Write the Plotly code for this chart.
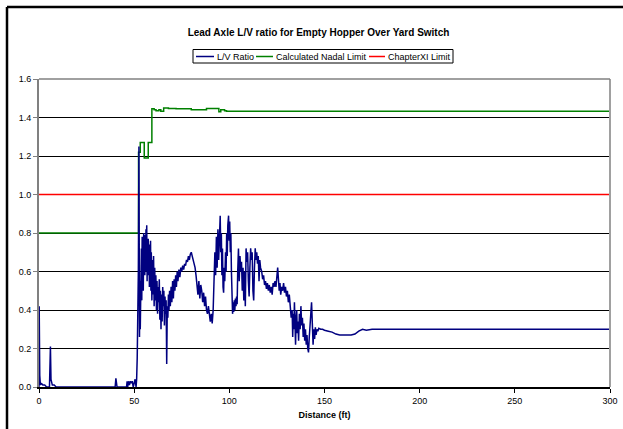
import plotly.graph_objects as go

# ---- data ----
lv_dist = [0, 0.1, 0.4, 0.6, 0.8, 1.2, 2, 3, 4, 5.5, 5.8, 6.0, 6.3, 6.6, 7, 8, 9, 10,
           40, 40.4, 40.7, 41, 46, 46.3, 46.6, 47, 47.5, 48, 48.5, 49, 49.5, 50, 50.5,
           51, 51.3, 51.6, 51.9, 52.2, 52.5, 52.8, 53.0, 53.2, 53.4, 53.6, 53.8, 54.0,
           54.2, 54.4, 54.6, 54.8, 55.0, 55.2, 55.4, 55.6, 55.8, 56.0, 56.2, 56.4, 56.6,
           56.8, 57.0, 57.2, 57.4, 57.6, 57.8, 58.0, 58.2, 58.4, 58.6, 58.8, 59.0, 59.3,
           59.6, 59.9, 60.2, 60.5, 60.8, 61.1, 61.4, 61.7, 62.0, 62.3, 62.6, 62.9, 63.2,
           63.5, 63.8, 64.1, 64.4, 64.7, 65.0, 65.3, 65.6, 65.9, 66.2, 66.5, 66.8, 67.1,
           67.4, 67.7, 68.0, 68.3, 68.6, 69.0, 69.4, 69.8, 70.2, 70.6, 71.0, 71.4, 71.8,
           72.2, 72.6, 73.0, 73.5, 74.0, 74.5, 75.0, 75.5, 76.0, 76.5, 77.0, 77.5, 78.0,
           78.5, 79.0, 79.5, 80.0, 80.5, 81.0, 81.5, 82.0, 82.5, 83.0, 83.5, 84.0, 84.5,
           85.0, 85.5, 86.0, 86.5, 87.0, 87.5, 88.0, 88.5, 89.0, 89.5, 90.0, 90.5, 91.0,
           91.5, 92.0, 92.4, 92.8, 93.2, 93.6, 94.0, 94.4, 94.8, 95.2, 95.5, 95.8, 96.1,
           96.4, 96.7, 97.0, 97.3, 97.6, 98.0, 98.3, 98.6, 98.9, 99.2, 99.6, 99.9, 100.2,
           100.5, 100.8, 101.1, 101.4, 101.7, 102.0, 102.3, 102.6, 102.9, 103.2, 103.5,
           103.8, 104.1, 104.4, 104.8, 105.2, 105.6, 106.0, 106.4, 106.8, 107.2, 107.6,
           108.0, 108.4, 108.8, 109.2, 109.6, 110.0, 110.4, 110.8, 111.2, 111.6, 112.0,
           112.4, 112.8, 113.2, 113.6, 114.0, 114.4, 114.8, 115.2, 115.6, 116.0, 116.4,
           117.0, 117.5, 118.0, 118.5, 119.0, 119.5, 120.0, 120.5, 121.0, 121.5, 122.0,
           122.5, 123.0, 123.5, 124.0, 124.5, 125.0, 125.4, 125.8, 126.2, 126.6, 127.0,
           127.5, 128.0, 128.5, 129.0, 129.5, 130.0, 130.5, 131.0, 131.5, 132.0, 132.5,
           133.0, 133.3, 133.6, 133.9, 134.2, 134.5, 134.8, 135.1, 135.4, 135.7, 136.0,
           136.4, 136.8, 137.2, 137.6, 138.0, 138.4, 138.8, 139.2, 139.6, 140.0, 140.4,
           140.8, 141.2, 141.6, 142.0, 142.4, 142.8, 143.2, 143.6, 144.0, 144.4, 144.8,
           145.2, 145.6, 146.0, 146.5, 147.0, 148.0, 149.0, 150.0, 152.0, 154.0, 156.0,
           158.0, 160.0, 162.0, 164.0, 166.0, 168.0, 170.0, 172.0, 175.0, 180.0, 185.0,
           190.0, 195.0, 200.0, 210.0, 220.0, 230.0, 240.0, 250.0, 260.0, 270.0, 280.0,
           290.0, 300.0]
lv_ratio = [0.0, 0.42, 0.06, 0.03, 0.01, 0.02, 0.01, 0.01, 0.0, 0.0, 0.1, 0.21, 0.04, 0.02, 0.01, 0.01, 0.0, 0.0,
            0.0, 0.045, 0.01, 0.0, 0.0, 0.03, 0.0, 0.03, 0.01, 0.03, 0.02, 0.03, 0.0, 0.02, 0.04,
            0.0, 0.04, 0.15, 0.3, 0.6, 1.25, 0.26, 0.55, 0.30, 0.62, 0.38, 0.72, 0.45,
            0.78, 0.55, 0.75, 0.50, 0.80, 0.62, 0.76, 0.58, 0.79, 0.60, 0.82, 0.65, 0.84,
            0.55, 0.76, 0.60, 0.77, 0.58, 0.74, 0.52, 0.72, 0.55, 0.76, 0.50, 0.70, 0.45,
            0.66, 0.48, 0.68, 0.42, 0.62, 0.45, 0.58, 0.40, 0.55, 0.38, 0.52, 0.44, 0.56,
            0.35, 0.50, 0.30, 0.48, 0.34, 0.52, 0.42, 0.50, 0.32, 0.47, 0.38, 0.45, 0.12,
            0.42, 0.36, 0.48, 0.40, 0.50, 0.42, 0.52, 0.44, 0.55, 0.46, 0.56, 0.50, 0.58,
            0.52, 0.60, 0.55, 0.61, 0.57, 0.62, 0.60, 0.63, 0.61, 0.64, 0.63, 0.66, 0.65,
            0.68, 0.66, 0.69, 0.70, 0.68, 0.66, 0.64, 0.62, 0.58, 0.52, 0.48, 0.55, 0.46,
            0.53, 0.50, 0.44, 0.49, 0.42, 0.47, 0.40, 0.38, 0.42, 0.36, 0.34, 0.38, 0.33,
            0.40, 0.52, 0.70, 0.58, 0.78, 0.62, 0.82, 0.66, 0.84, 0.89, 0.70, 0.80, 0.58,
            0.72, 0.52, 0.49, 0.62, 0.55, 0.70, 0.60, 0.80, 0.68, 0.84, 0.89, 0.76, 0.86,
            0.70, 0.80, 0.60, 0.45, 0.38, 0.44, 0.39, 0.45, 0.40, 0.46, 0.42,
            0.47, 0.43, 0.60, 0.72, 0.55, 0.68, 0.60, 0.65, 0.50, 0.62, 0.45,
            0.60, 0.42, 0.72, 0.65, 0.70, 0.55, 0.47, 0.62, 0.72, 0.66, 0.70,
            0.50, 0.45, 0.62, 0.72, 0.66, 0.70, 0.64, 0.68, 0.55, 0.66, 0.62,
            0.60, 0.56, 0.58, 0.53, 0.55, 0.51, 0.54, 0.50, 0.53, 0.49, 0.52,
            0.48, 0.54, 0.52, 0.55, 0.52, 0.58, 0.62, 0.56, 0.50, 0.54, 0.48,
            0.52, 0.50, 0.54, 0.49, 0.52, 0.47, 0.50, 0.44, 0.48, 0.42, 0.36,
            0.40, 0.26, 0.38, 0.30, 0.44, 0.32, 0.22, 0.36, 0.40, 0.28, 0.34,
            0.24, 0.38, 0.30, 0.42, 0.32, 0.36, 0.26, 0.33, 0.24, 0.30, 0.22,
            0.27, 0.20, 0.18, 0.26, 0.30, 0.38, 0.44, 0.32, 0.22, 0.30, 0.25,
            0.31, 0.27, 0.30, 0.29, 0.305, 0.30, 0.30, 0.295, 0.29, 0.285, 0.275,
            0.27, 0.27, 0.27, 0.27, 0.275, 0.29, 0.30, 0.295, 0.30, 0.30, 0.297,
            0.30, 0.30, 0.298, 0.30, 0.30, 0.298, 0.30, 0.30, 0.298, 0.30, 0.30,
            0.30, 0.30]

nadal_dist = [0, 52.3, 53.2, 55.3, 57.4, 59.3, 60.5, 61.5, 63.0, 64.0, 65.5, 68.0, 72.0,
              80.0, 88.0, 94.5, 95.5, 97.5, 98.5, 300]
nadal_limit = [0.8, 1.22, 1.27, 1.19, 1.27, 1.445, 1.44, 1.435, 1.44, 1.432, 1.45, 1.447,
               1.445, 1.44, 1.447, 1.43, 1.44, 1.435, 1.433, 1.433]

ch11_dist = [0, 300]
ch11_limit = [1.0, 1.0]

x_ticks = [0, 50, 100, 150, 200, 250, 300]
y_ticks = [0.0, 0.2, 0.4, 0.6, 0.8, 1.0, 1.2, 1.4, 1.6]

series_names = ["L/V Ratio", "Calculated Nadal Limit", "ChapterXI Limit"]
series_colors = ["#000080", "#008000", "#FF0000"]

FONT = "Liberation Sans, Arial, sans-serif"

# plot area in pixels
L, R, T, B = 39, 610, 79, 387
W, H = 623, 429


def px2x(px):
    return (px - L) / (R - L)


def py2y(py):
    return (B - py) / (B - T)


fig = go.Figure()
fig.add_trace(go.Scatter(x=ch11_dist, y=ch11_limit, mode="lines", name=series_names[2],
                         line=dict(color=series_colors[2], width=1.5), showlegend=False))
fig.add_trace(go.Scatter(x=nadal_dist, y=nadal_limit, mode="lines", name=series_names[1],
                         line=dict(color=series_colors[1], width=1.5, shape="hv"), showlegend=False))
fig.add_trace(go.Scatter(x=lv_dist, y=lv_ratio, mode="lines", name=series_names[0],
                         line=dict(color=series_colors[0], width=1.5), showlegend=False))

fig.update_layout(
    width=W, height=H,
    margin=dict(l=L, r=W - R, t=T, b=H - B, autoexpand=False),
    paper_bgcolor="white", plot_bgcolor="white",
    font=dict(family=FONT, size=9, color="black"),
    title=dict(text="<b>Lead Axle L/V ratio for Empty Hopper Over Yard Switch</b>",
               font=dict(size=10, family=FONT, color="black"),
               xref="container", x=318.5 / W, xanchor="center",
               yref="container", y=1 - 32 / H, yanchor="middle"),
    showlegend=False,
)
fig.update_xaxes(range=[0, 300], tickvals=x_ticks, ticks="outside", ticklen=4,
                 tickcolor="black", showgrid=False, zeroline=False, automargin=False,
                 showline=True, linecolor="black", linewidth=1.5,
                 title=dict(text="<b>Distance (ft)</b>", font=dict(size=9, family=FONT), standoff=7),
                 tickfont=dict(size=9))
fig.update_yaxes(range=[0, 1.6], tickvals=y_ticks, tickformat=".1f", ticks="outside", ticklen=4,
                 tickcolor="#808080", showgrid=True, gridcolor="black", gridwidth=1,
                 zeroline=False, showline=True, linecolor="#808080", linewidth=2,
                 automargin=False, tickfont=dict(size=9))

# plot-area border (top/right)
fig.add_shape(type="line", xref="paper", yref="paper", x0=1, x1=1, y0=0, y1=1,
              line=dict(color="#A0A0A0", width=2))
fig.add_shape(type="line", xref="paper", yref="paper", x0=0, x1=1, y0=1, y1=1,
              line=dict(color="#808080", width=1.5))
# outer chart frame: only left and top edges are inside the picture
fig.add_shape(type="line", xref="paper", yref="paper",
              x0=px2x(7), x1=px2x(7), y0=py2y(H + 5), y1=py2y(7),
              line=dict(color="black", width=2.5), layer="below")
fig.add_shape(type="line", xref="paper", yref="paper",
              x0=px2x(7), x1=px2x(W + 5), y0=py2y(7), y1=py2y(7),
              line=dict(color="black", width=2.5), layer="below")

# custom legend box
fig.add_shape(type="rect", xref="paper", yref="paper",
              x0=px2x(193), x1=px2x(453), y0=py2y(63), y1=py2y(49.5),
              line=dict(color="black", width=1), fillcolor="white")
legend_line_px = [(196, 214), (256, 273), (369, 385)]
ly = 56.5
for name, color, (a, b) in zip(series_names, series_colors, legend_line_px):
    fig.add_shape(type="line", xref="paper", yref="paper",
                  x0=px2x(a), x1=px2x(b), y0=py2y(ly), y1=py2y(ly),
                  line=dict(color=color, width=1.5))
    fig.add_annotation(xref="paper", yref="paper", x=px2x(b + 0.5), y=py2y(ly),
                       text=name, showarrow=False, xanchor="left", yanchor="middle",
                       font=dict(size=9, family=FONT, color="black"), xshift=0)

fig.write_html("out.html", config={"displayModeBar": False},
               post_script="document.body.style.margin='0';")
